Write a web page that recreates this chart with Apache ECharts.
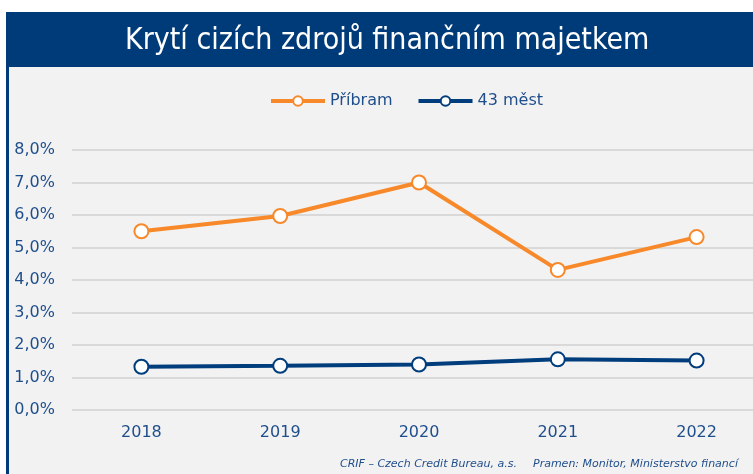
<!DOCTYPE html>
<html><head><meta charset="utf-8">
<script src="https://cdn.jsdelivr.net/npm/echarts@6/dist/echarts.min.js"></script>
<style>html,body{margin:0;padding:0;background:#fff;overflow:hidden}#c{width:766px;height:474px}</style>
</head><body><div id="c"></div>
<script>
const categories = ['2018','2019','2020','2021','2022'];
const pribram = [5.50, 5.97, 7.00, 4.31, 5.32];
const mest43 = [1.33, 1.36, 1.40, 1.56, 1.52];
const seriesNames = ['Příbram','43 měst'];
const chartTitle = 'Krytí cizích zdrojů finančním majetkem';
const sourceLeft = 'CRIF – Czech Credit Bureau, a.s.';
const sourceRight = 'Pramen: Monitor, Ministerstvo financí';

const chart = echarts.init(document.getElementById('c'), null, {renderer:'canvas'});
const txt = '#1f4e8c';
const orange = '#f7892a', navy = '#003d7c';
const font = 'Verdana, "DejaVu Sans", sans-serif';
chart.setOption({
  animation:false,
  backgroundColor:'#ffffff',
  graphic:[
    {type:'rect', z:-10, shape:{x:6,y:12,width:780,height:480}, style:{fill:'#f2f2f2'}},
    {type:'rect', z:-9, shape:{x:6,y:12,width:3,height:480}, style:{fill:'#003b79'}},
    {type:'rect', z:-8, shape:{x:6,y:12,width:780,height:55}, style:{fill:'#003b79'}},
    {type:'text', z:10, left:340, top:459, style:{text:sourceLeft, fill:txt, font:'italic 11px '+font}},
    {type:'text', z:10, left:533, top:459, style:{text:sourceRight, fill:txt, font:'italic 11px '+font}}
  ],
  title:{text:chartTitle, left:120, top:21, textStyle:{color:'#ffffff', fontSize:30, fontWeight:'normal', fontFamily:'"DejaVu Sans Condensed", "DejaVu Sans", sans-serif'}},
  legend:{top:88, left:264, itemWidth:54, itemHeight:12, itemGap:24, textStyle:{color:txt, fontSize:16, fontFamily:font},
    data:[
      {name:seriesNames[0], lineStyle:{width:4, color:orange}, itemStyle:{color:'#fff', borderColor:orange, borderWidth:2}},
      {name:seriesNames[1], lineStyle:{width:4, color:navy}, itemStyle:{color:'#fff', borderColor:navy, borderWidth:2}}
    ]},
  grid:{left:72, right:0, top:150, bottom:64, containLabel:false},
  xAxis:{type:'category', data:categories, boundaryGap:true,
    axisLine:{show:false}, axisTick:{show:false},
    axisLabel:{color:txt, fontSize:16, fontFamily:font, margin:15}},
  yAxis:{type:'value', min:0, max:8, interval:1,
    axisLabel:{color:txt, fontSize:16, fontFamily:font, margin:17, formatter:v=>v.toFixed(1).replace('.',',')+'%'},
    splitLine:{lineStyle:{color:'#d9d9d9', width:2}}, axisLine:{show:false}, axisTick:{show:false}},
  series:[
    {name:seriesNames[0], type:'line', data:pribram, symbol:'circle', symbolSize:14,
      lineStyle:{color:orange, width:4}, itemStyle:{color:'#ffffff', borderColor:orange, borderWidth:2}},
    {name:seriesNames[1], type:'line', data:mest43, symbol:'circle', symbolSize:14,
      lineStyle:{color:navy, width:4}, itemStyle:{color:'#ffffff', borderColor:navy, borderWidth:2}}
  ]
});
</script></body></html>
